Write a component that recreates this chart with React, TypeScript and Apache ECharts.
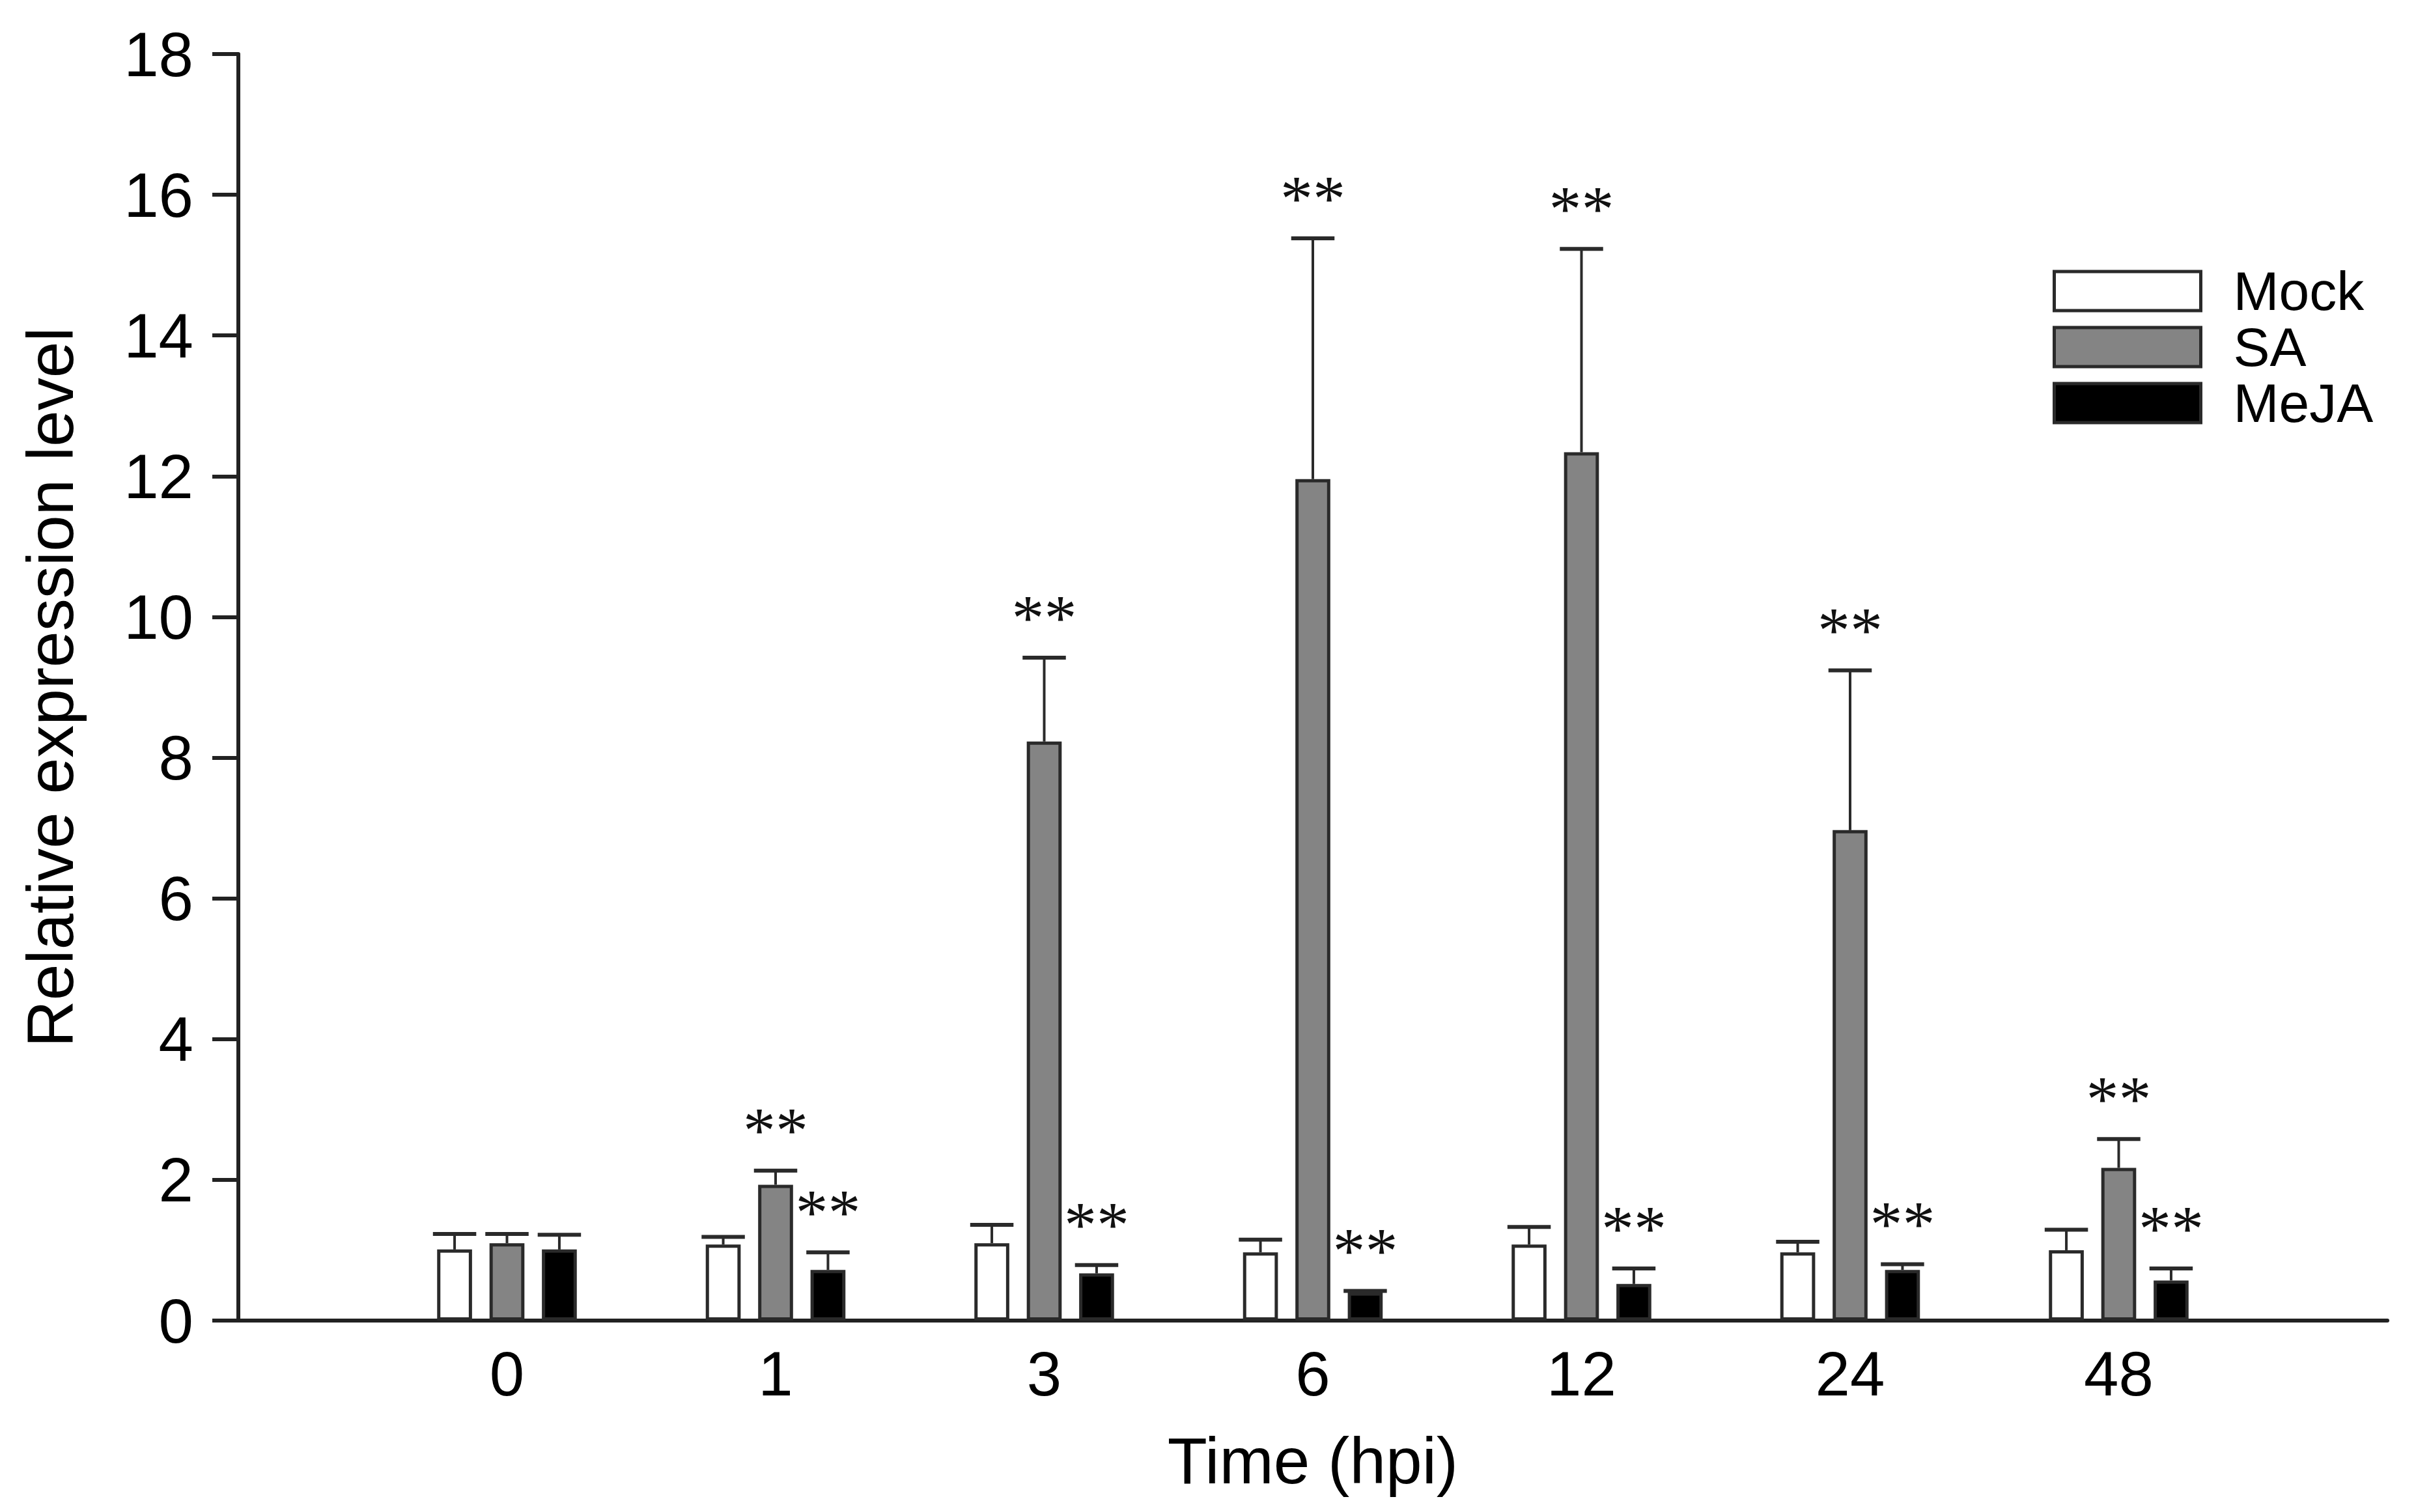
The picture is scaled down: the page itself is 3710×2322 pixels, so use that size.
import React, { useEffect, useRef } from "react";
import * as echarts from "echarts";

// Category labels (empty slots at both ends give the spacing seen in the figure)
const categories = ["", "0", "1", "3", "6", "12", "24", "48", ""];
const seriesNames = ["Mock", "SA", "MeJA"];

// Mean relative expression
const mockValues = [1.01, 1.08, 1.1, 0.97, 1.08, 0.97, 1.0];
const saValues = [1.1, 1.93, 8.23, 11.96, 12.34, 6.97, 2.17];
const mejaValues = [1.01, 0.72, 0.67, 0.4, 0.52, 0.72, 0.57];

// Upper end of error bars
const mockErrTop = [1.23, 1.19, 1.36, 1.15, 1.33, 1.12, 1.29];
const saErrTop = [1.23, 2.13, 9.42, 15.38, 15.23, 9.24, 2.58];
const mejaErrTop = [1.22, 0.97, 0.79, 0.42, 0.74, 0.8, 0.74];

// Significance marks (1 = "**")
const mockSig = [0, 0, 0, 0, 0, 0, 0];
const saSig = [0, 1, 1, 1, 1, 1, 1];
const mejaSig = [0, 1, 1, 1, 1, 1, 1];

const yTicks = { min: 0, max: 18, interval: 2 };

const FONT = "'Liberation Sans', Arial, Helvetica, sans-serif";
const BAR_FRAC = 0.13;
const EDGE = "#2a2a2a";

const fills = ["#ffffff", "#848484", "#000000"];
const valueSets = [mockValues, saValues, mejaValues];
const errSets = [mockErrTop, saErrTop, mejaErrTop];
const sigSets = [mockSig, saSig, mejaSig];

export default function App() {
  const ref = useRef<HTMLDivElement>(null);

  useEffect(() => {
    document.body.style.margin = "0";
    if (!ref.current) return;
    const chart = echarts.init(ref.current, null, { renderer: "svg" });

    const barSeries = seriesNames.map((name, s) => ({
      name,
      type: "bar",
      data: [null, ...valueSets[s], null],
      barWidth: BAR_FRAC * 100 + "%",
      barGap: "50%",
      itemStyle: { color: fills[s], borderColor: EDGE, borderWidth: 5 },
      z: 2,
    }));

    const errSeries = seriesNames.map((name, s) => ({
      name: "err-" + name,
      type: "custom",
      z: 3,
      data: valueSets[s].map((v, i) => [i + 1, v, errSets[s][i], sigSets[s][i]]),
      encode: { x: 0, y: [1, 2] },
      renderItem: (params: any, api: any) => {
        const idx = api.value(0);
        const val = api.value(1);
        const top = api.value(2);
        const sig = api.value(3);
        const band = api.size([1, 0])[0];
        const bw = band * BAR_FRAC;
        const c = api.coord([idx, 0]);
        const x = c[0] + (s - 1) * bw * 1.5;
        const yVal = api.coord([idx, val])[1];
        const yTop = api.coord([idx, top])[1];
        const capHalf = bw * 0.62;
        const children: any[] = [
          {
            type: "line",
            shape: { x1: x, y1: yVal, x2: x, y2: yTop },
            style: { stroke: EDGE, lineWidth: 4 },
          },
          {
            type: "line",
            shape: { x1: x - capHalf, y1: yTop, x2: x + capHalf, y2: yTop },
            style: { stroke: EDGE, lineWidth: 6 },
          },
        ];
        if (sig) {
          children.push({
            type: "text",
            x: x,
            y: yTop - 62,
            style: {
              text: "**",
              fontSize: 100,
              fontFamily: "'Liberation Serif', 'Times New Roman', serif",
              fill: "#111",
              align: "center",
              verticalAlign: "middle",
            },
          });
        }
        return { type: "group", children };
      },
    }));

    chart.setOption({
      animation: false,
      backgroundColor: "#ffffff",
      grid: { left: 366, right: 44, top: 83, bottom: 294, containLabel: false },
      legend: {
        data: seriesNames,
        orient: "vertical",
        left: 3147,
        top: 400,
        itemWidth: 225,
        itemHeight: 60,
        itemGap: 2,
        icon: "rect",
        selectedMode: false,
        itemStyle: { borderColor: EDGE, borderWidth: 5 },
        textStyle: {
          fontSize: 84,
          fontFamily: FONT,
          color: "#000",
          padding: [0, 0, 0, 45],
        },
      },
      xAxis: {
        type: "category",
        data: categories,
        boundaryGap: false,
        axisLine: { show: true, lineStyle: { color: "#222", width: 6 } },
        axisTick: { show: false },
        axisLabel: {
          interval: 0,
          fontSize: 96,
          fontFamily: FONT,
          color: "#000",
          margin: 33,
        },
        splitLine: { show: false },
        name: "Time (hpi)",
        nameLocation: "middle",
        nameGap: 165,
        nameTextStyle: { fontSize: 100, fontFamily: FONT, color: "#000" },
      },
      yAxis: {
        type: "value",
        min: yTicks.min,
        max: yTicks.max,
        interval: yTicks.interval,
        axisLine: { show: true, lineStyle: { color: "#222", width: 6 } },
        axisTick: { show: true, inside: false, length: 40, lineStyle: { color: "#222", width: 6 } },
        axisLabel: {
          fontSize: 96,
          fontFamily: FONT,
          color: "#000",
          margin: 69,
        },
        splitLine: { show: false },
        name: "Relative expression level",
        nameLocation: "middle",
        nameRotate: 90,
        nameGap: 239,
        nameTextStyle: { fontSize: 100, fontFamily: FONT, color: "#000" },
      },
      series: [...barSeries, ...errSeries],
    });

    return () => chart.dispose();
  }, []);

  return <div ref={ref} style={{ width: 3710, height: 2322 }} />;
}
